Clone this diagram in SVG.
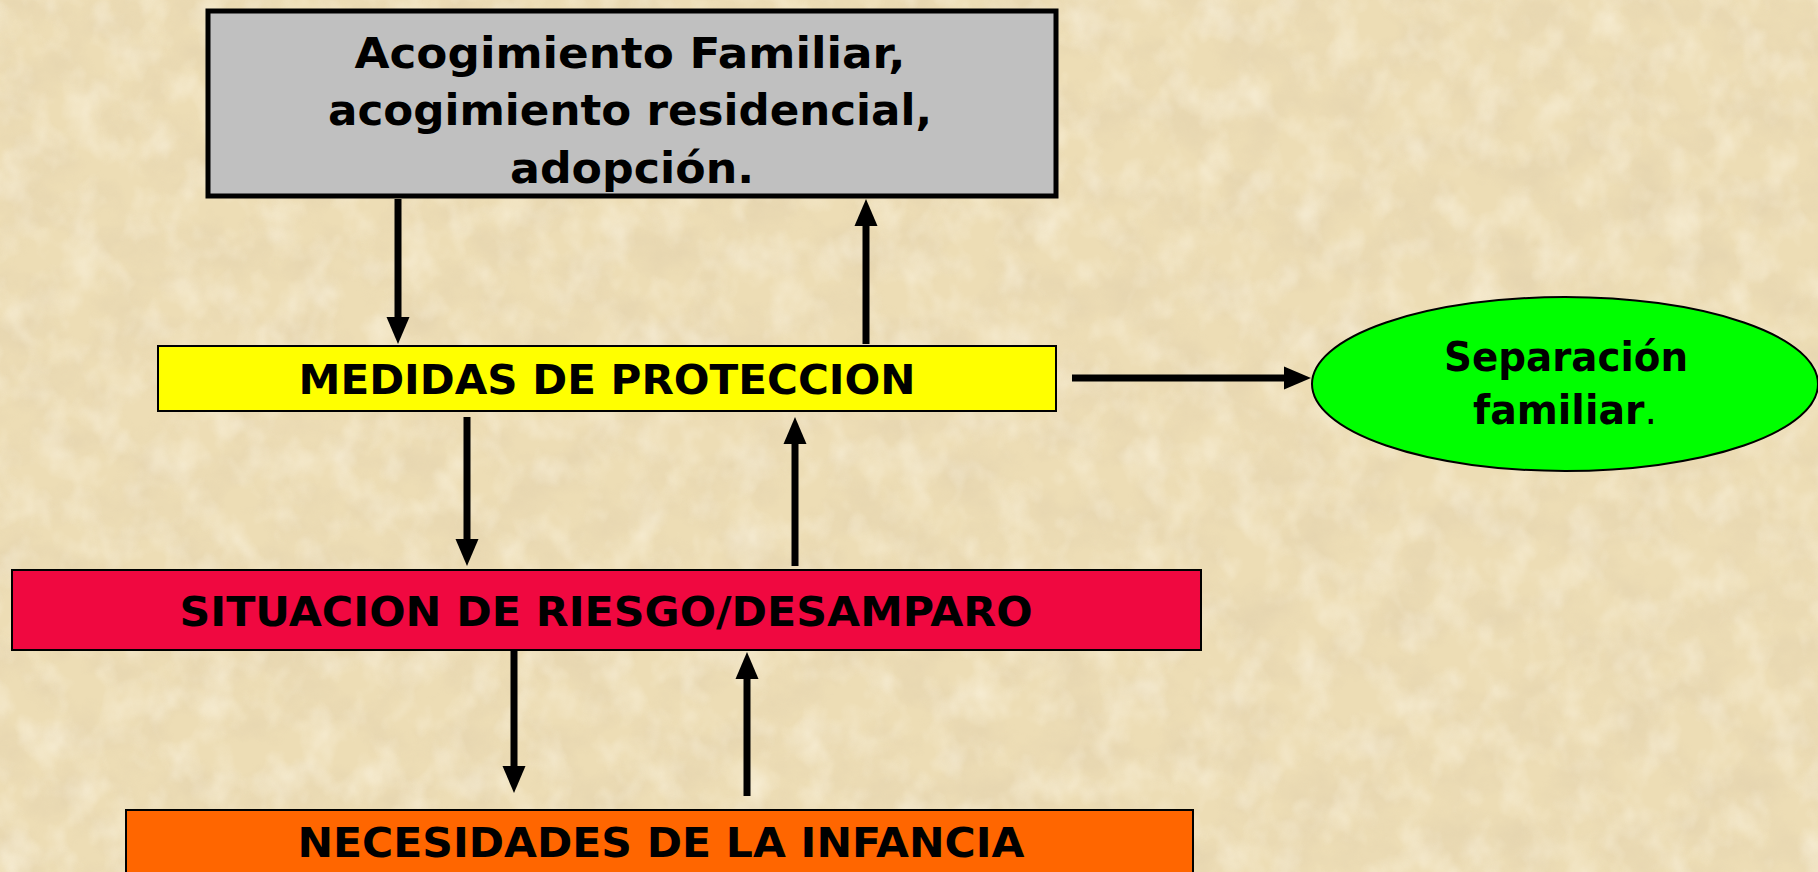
<svg xmlns="http://www.w3.org/2000/svg" width="1818" height="872" viewBox="0 0 1818 872">
  <style>
    .lbl { font-family: "DejaVu Sans", Verdana, sans-serif; font-weight: bold; fill: #000; text-anchor: middle; }
    .box { stroke: #000; stroke-width: 2; }
    .conn line { stroke: #000; stroke-width: 7; marker-end: url(#ah); }
  </style>
  <defs>
    <marker id="ah" viewBox="0 -12 28 24" refX="0" refY="0" markerWidth="28" markerHeight="24" markerUnits="userSpaceOnUse" orient="auto">
      <path d="M0,-11.5 L27,0 L0,11.5 z" fill="#000"/>
    </marker>
    <filter id="paper" x="0" y="0" width="100%" height="100%">
      <feTurbulence type="fractalNoise" baseFrequency="0.018 0.022" numOctaves="4" seed="7" result="n"/>
      <feColorMatrix in="n" type="matrix" values="0 0 0 0 0.72  0 0 0 0 0.60  0 0 0 0 0.40  1.6 0 0 0 -0.62"/>
    </filter>
    <filter id="light" x="0" y="0" width="100%" height="100%">
      <feTurbulence type="fractalNoise" baseFrequency="0.03 0.025" numOctaves="3" seed="21" result="n"/>
      <feColorMatrix in="n" type="matrix" values="0 0 0 0 0.98  0 0 0 0 0.93  0 0 0 0 0.80  1.8 0 0 0 -0.78"/>
    </filter>
  </defs>

  <rect x="0" y="0" width="1818" height="872" fill="#EDDDB5"/>
  <rect x="0" y="0" width="1818" height="872" filter="url(#paper)" opacity="0.55"/>
  <rect x="0" y="0" width="1818" height="872" filter="url(#light)" opacity="0.6"/>

  <g id="node-acogimiento">
    <rect x="208" y="11" width="848" height="185" fill="#C0C0C0" stroke="#000" stroke-width="5"/>
    <text class="lbl" x="630" y="68" font-size="42" textLength="551" lengthAdjust="spacingAndGlyphs">Acogimiento Familiar,</text>
    <text class="lbl" x="630" y="125" font-size="42" textLength="604" lengthAdjust="spacingAndGlyphs">acogimiento residencial,</text>
    <text class="lbl" x="632" y="183" font-size="42" textLength="244" lengthAdjust="spacingAndGlyphs">adopción.</text>
  </g>

  <g id="node-medidas">
    <rect class="box" x="158" y="346" width="898" height="65" fill="#FFFF00"/>
    <text class="lbl" x="607" y="394" font-size="41" textLength="617" lengthAdjust="spacingAndGlyphs">MEDIDAS DE PROTECCION</text>
  </g>

  <g id="node-separacion">
    <ellipse cx="1565" cy="384" rx="253" ry="87" fill="#00FF00" stroke="#000" stroke-width="2"/>
    <text class="lbl" x="1566" y="371" font-size="40" textLength="244" lengthAdjust="spacingAndGlyphs">Separación</text>
    <text class="lbl" x="1565" y="424" font-size="40" textLength="184" lengthAdjust="spacingAndGlyphs">familiar<tspan font-weight="normal">.</tspan></text>
  </g>

  <g id="node-situacion">
    <rect class="box" x="12" y="570" width="1189" height="80" fill="#F00840"/>
    <text class="lbl" x="606" y="626" font-size="41" textLength="853" lengthAdjust="spacingAndGlyphs">SITUACION DE RIESGO/DESAMPARO</text>
  </g>

  <g id="node-necesidades">
    <rect class="box" x="126" y="810" width="1067" height="75" fill="#FF6600"/>
    <text class="lbl" x="661" y="857" font-size="41" textLength="727" lengthAdjust="spacingAndGlyphs">NECESIDADES DE LA INFANCIA</text>
  </g>

  <g id="connectors" class="conn">
    <line x1="398" y1="199" x2="398" y2="317"/>
    <line x1="866" y1="344" x2="866" y2="226"/>
    <line x1="1072" y1="378" x2="1284" y2="378"/>
    <line x1="467" y1="417" x2="467" y2="539"/>
    <line x1="795" y1="566" x2="795" y2="444"/>
    <line x1="514" y1="651" x2="514" y2="766"/>
    <line x1="747" y1="796" x2="747" y2="679"/>
  </g>
</svg>
